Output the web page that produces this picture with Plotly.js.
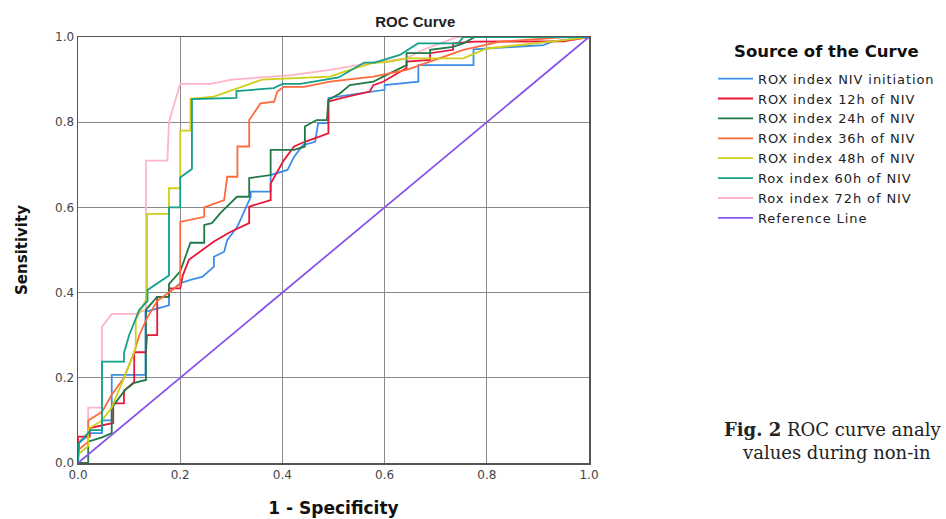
<!DOCTYPE html>
<html>
<head>
<meta charset="utf-8">
<script src="https://cdn.plot.ly/plotly-3.0.1.min.js"></script>
<style>
html,body{margin:0;padding:0;background:#fff;}
#chart{width:946px;height:519px;}
#chart .legendtext{letter-spacing:0.9px;}
#chart g.legend g.scrollbox{clip-path:none !important;}
</style>
</head>
<body>
<div id="chart"></div>
<script>
// Series names (legend order)
var seriesNames = ["ROX index NIV initiation","ROX index 12h of NIV","ROX index 24h of NIV","ROX index 36h of NIV","ROX index 48h of NIV","Rox index 60h of NIV","Rox index 72h of NIV","Reference Line"];

// ROX index NIV initiation
var blueX = [0,0.002,0.025,0.047,0.047,0.066,0.066,0.132,0.132,0.178,0.178,0.2,0.22,0.243,0.266,0.266,0.286,0.292,0.312,0.338,0.338,0.377,0.377,0.41,0.423,0.44,0.464,0.47,0.49,0.49,0.6,0.6,0.666,0.666,0.774,0.774,0.911,0.93,1];
var blueY = [0,0.047,0.07,0.07,0.1,0.1,0.207,0.207,0.355,0.37,0.40,0.422,0.43,0.437,0.461,0.484,0.496,0.523,0.555,0.625,0.637,0.637,0.676,0.688,0.719,0.746,0.754,0.798,0.798,0.857,0.876,0.887,0.895,0.934,0.934,0.971,0.981,0.99,1];

// ROX index 12h of NIV
var redX = [0,0,0.023,0.023,0.069,0.069,0.09,0.09,0.11,0.11,0.133,0.135,0.155,0.155,0.178,0.178,0.2,0.205,0.217,0.266,0.299,0.335,0.335,0.377,0.377,0.403,0.423,0.444,0.49,0.49,0.513,0.571,0.578,0.597,0.643,0.643,0.689,0.689,0.734,0.734,0.777,0.95,1];
var redY = [0,0.062,0.062,0.082,0.094,0.14,0.14,0.17,0.19,0.26,0.26,0.30,0.30,0.39,0.39,0.41,0.41,0.44,0.477,0.52,0.543,0.563,0.602,0.617,0.656,0.711,0.743,0.754,0.774,0.848,0.856,0.872,0.887,0.895,0.927,0.942,0.946,0.962,0.97,0.985,0.989,0.99,1];

// ROX index 24h of NIV
var greenX = [0,0.02,0.02,0.047,0.066,0.066,0.092,0.11,0.133,0.133,0.155,0.178,0.178,0.2,0.22,0.247,0.247,0.262,0.279,0.311,0.335,0.335,0.377,0.377,0.423,0.444,0.444,0.467,0.487,0.49,0.513,0.532,0.578,0.597,0.643,0.643,0.689,0.689,0.734,0.754,0.777,1];
var greenY = [0,0,0.05,0.06,0.07,0.13,0.171,0.188,0.195,0.36,0.39,0.39,0.42,0.45,0.517,0.517,0.559,0.563,0.587,0.625,0.625,0.669,0.676,0.735,0.735,0.743,0.79,0.805,0.805,0.852,0.868,0.887,0.895,0.907,0.934,0.962,0.962,0.97,0.977,0.985,1,1];

// ROX index 36h of NIV
var orangeX = [0,0,0.02,0.02,0.047,0.066,0.09,0.11,0.12,0.135,0.155,0.178,0.2,0.2,0.247,0.247,0.286,0.292,0.312,0.312,0.335,0.335,0.357,0.384,0.39,0.403,0.442,0.493,0.578,0.643,0.689,0.754,0.826,0.956,1];
var orangeY = [0,0.03,0.05,0.1,0.12,0.16,0.2,0.26,0.3,0.34,0.38,0.40,0.42,0.566,0.578,0.60,0.617,0.672,0.672,0.743,0.743,0.805,0.844,0.848,0.872,0.883,0.883,0.895,0.907,0.923,0.942,0.97,0.989,1.0,1];

// ROX index 48h of NIV
var yellowX = [0,0,0.02,0.02,0.047,0.066,0.09,0.113,0.113,0.133,0.135,0.135,0.178,0.178,0.2,0.2,0.22,0.22,0.266,0.36,0.415,0.493,0.532,0.577,0.61,0.643,0.754,0.8,0.956,1];
var yellowY = [0,0.02,0.04,0.08,0.1,0.13,0.2,0.27,0.336,0.383,0.41,0.585,0.585,0.645,0.645,0.78,0.78,0.855,0.86,0.9,0.903,0.907,0.923,0.939,0.942,0.95,0.95,0.973,0.993,1];

// Rox index 60h of NIV
var tealX = [0,0.002,0.025,0.047,0.047,0.09,0.09,0.1,0.12,0.136,0.136,0.178,0.178,0.2,0.2,0.223,0.223,0.31,0.31,0.383,0.4,0.435,0.51,0.56,0.58,0.63,0.665,0.744,0.754,1];
var tealY = [0,0.047,0.077,0.077,0.238,0.238,0.258,0.3,0.36,0.38,0.406,0.44,0.60,0.60,0.67,0.69,0.854,0.857,0.873,0.88,0.89,0.89,0.905,0.94,0.94,0.958,0.985,0.985,1,1];

// Rox index 72h of NIV
var pinkX = [0,0,0.02,0.02,0.047,0.047,0.066,0.113,0.133,0.133,0.175,0.178,0.2,0.26,0.3,0.36,0.415,0.493,0.577,0.643,0.675,0.72,0.74,1];
var pinkY = [0,0.05,0.07,0.13,0.13,0.32,0.35,0.35,0.36,0.71,0.71,0.80,0.89,0.89,0.90,0.905,0.91,0.923,0.94,0.95,0.97,0.99,1,1];

// Reference line
var refX = [0,1];
var refY = [0,1];

var tickVals = [0,0.2,0.4,0.6,0.8,1.0];
var tickText = ["0.0","0.2","0.4","0.6","0.8","1.0"];

var colors = ["#3d8ee8","#e8173a","#1f7a48","#ff6a3d","#cfcf1a","#12a08a","#ffb3c6","#8a55e8"];
var xs = [blueX,redX,greenX,orangeX,yellowX,tealX,pinkX,refX];
var ys = [blueY,redY,greenY,orangeY,yellowY,tealY,pinkY,refY];

var drawOrder = [6,0,1,2,3,4,5,7];
var traces = drawOrder.map(function(i){
  return {
    type:"scatter", mode:"lines", x: xs[i], y: ys[i], name: seriesNames[i],
    legendrank: i+1,
    line:{color:colors[i], width:1.8}
  };
});

var font = "Liberation Sans, Arial, sans-serif";
var dv = "DejaVu Sans, sans-serif";
var layout = {
  width:946, height:519,
  paper_bgcolor:"#ffffff", plot_bgcolor:"#ffffff",
  margin:{l:78, r:357, t:37, b:56},
  title:{text:"<b>ROC Curve</b>", font:{family:font, size:15, color:"#222"}, xref:"paper", x:0.66, xanchor:"center", yref:"container", y:0.958, yanchor:"middle"},
  xaxis:{range:[0,1], tickvals:tickVals, ticktext:tickText, showgrid:true, gridcolor:"#8a8a8a", gridwidth:1,
    showline:true, linecolor:"#555", linewidth:1.5, mirror:true, zeroline:false, ticks:"",
    tickfont:{family:dv, size:12, color:"#444"},
    title:{text:"<b>1 - Specificity</b>", font:{family:dv, size:17, color:"#111"}, standoff:21}},
  yaxis:{range:[0,1], tickvals:tickVals, ticktext:tickText, showgrid:true, gridcolor:"#8a8a8a", gridwidth:1,
    showline:true, linecolor:"#555", linewidth:1.5, mirror:true, zeroline:false, ticks:"",
    tickfont:{family:dv, size:12, color:"#444"},
    title:{text:"<b>Sensitivity</b>", font:{family:dv, size:15, color:"#111"}, standoff:24}},
  showlegend:true,
  legend:{x:1.2427, y:0.9374, xanchor:"left", yanchor:"top", bgcolor:"rgba(0,0,0,0)",
    font:{family:dv, size:13, color:"#222"},
    tracegroupgap:0, itemwidth:35},
  annotations:[
    {xref:"paper", yref:"paper", x:(732-78)/511, y:(463-52)/426, xanchor:"left", yanchor:"middle", showarrow:false,
     text:"<b>Source of the Curve</b>", font:{family:dv, size:16.5, color:"#111"}},
    {xref:"paper", yref:"paper", x:1.26, y:0.0775, xanchor:"left", yanchor:"middle", showarrow:false,
     text:"<b>Fig. 2</b> ROC curve analy", font:{family:"DejaVu Serif, serif", size:18, color:"#222"}},
    {xref:"paper", yref:"paper", x:1.2955, y:0.0258, xanchor:"left", yanchor:"middle", showarrow:false,
     text:"values during non-in", font:{family:"DejaVu Serif, serif", size:18, color:"#222"}}
  ]
};

Plotly.newPlot("chart", traces, layout, {staticPlot:true, displayModeBar:false});
</script>
</body>
</html>
